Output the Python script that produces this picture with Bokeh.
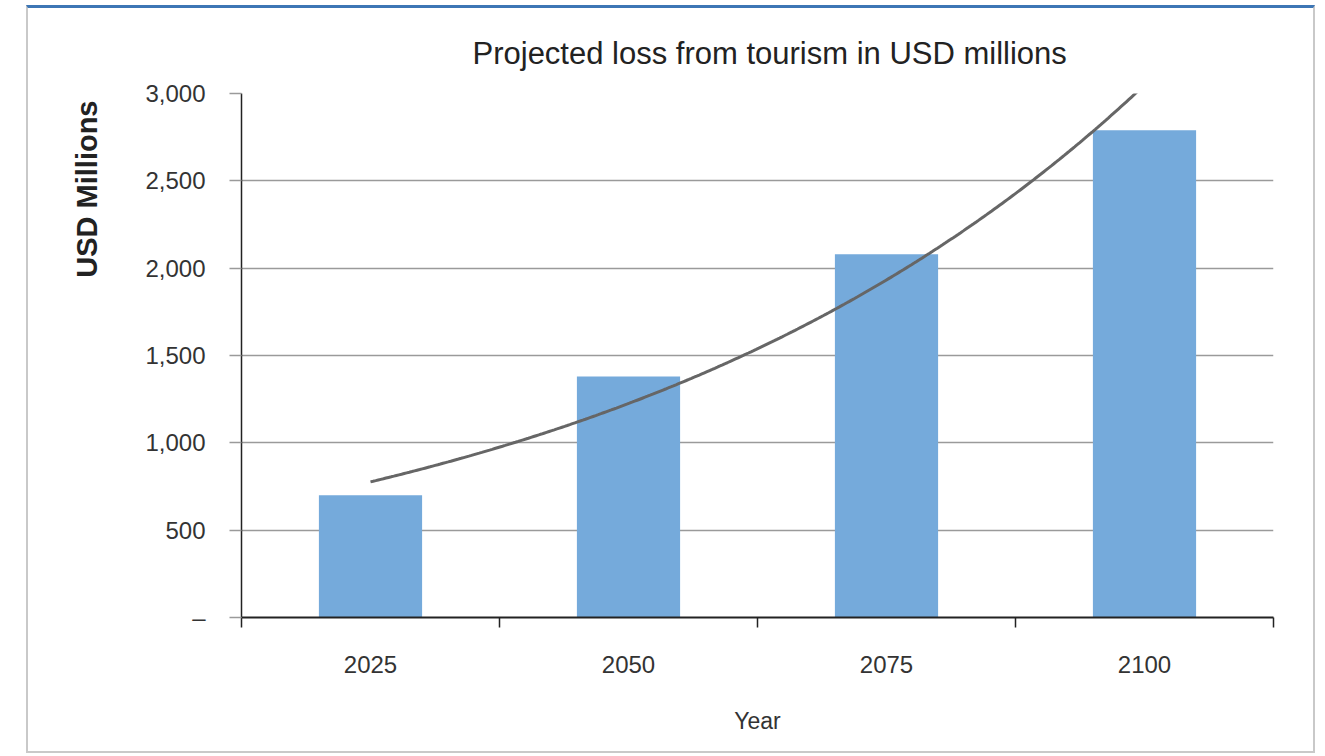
import numpy as np
from bokeh.plotting import figure
from bokeh.models import (Range1d, LinearAxis, FixedTicker, NumeralTickFormatter, Title)
from bokeh.embed import file_html
from bokeh.resources import INLINE

# ---- data ----
years = ["2025", "2050", "2075", "2100"]
losses = [700, 1380, 2080, 2790]
y_ticks = [0, 500, 1000, 1500, 2000, 2500, 3000]
title_text = "Projected loss from tourism in USD millions"
y_label = "USD Millions"
x_label = "Year"

FONT = "Liberation Sans"
TXT = "#333333"

n = len(years)
centers = [i + 0.5 for i in range(n)]

p = figure(width=1289, height=748, x_range=Range1d(0, n), y_range=Range1d(0, 3000),
           output_backend="svg", toolbar_location=None, x_axis_location=None,
           min_border_left=212, min_border_right=44, min_border_top=85, min_border_bottom=139,
           title=title_text)
p.margin = (5, 0, 0, 26)
p.styles = {"border-left": "2px solid #c9c9c9", "border-right": "2px solid #c9c9c9",
            "border-bottom": "2px solid #c9c9c9", "border-top": "3px solid #3d76b5"}
p.outline_line_color = None
p.background_fill_color = "white"
p.border_fill_color = "white"

# title
p.title.align = "left"
p.title.offset = 231
p.title.text_font = FONT
p.title.text_font_size = "31px"
p.title.text_font_style = "normal"
p.title.text_color = "#222222"
p.title.standoff = 46

# grid
p.xgrid.visible = False
p.ygrid.ticker = FixedTicker(ticks=y_ticks)
p.ygrid.grid_line_color = "#9a9a9a"
p.ygrid.grid_line_width = 1.5

# y axis
ya = p.yaxis[0]
ya.ticker = FixedTicker(ticks=y_ticks)
ya.formatter = NumeralTickFormatter(format="0,0")
ya.major_label_overrides = {0: "–"}
ya.major_tick_out = 12
ya.major_tick_in = 0
ya.minor_tick_line_color = None
ya.major_tick_line_color = "#9a9a9a"
ya.major_tick_line_width = 1.5
ya.axis_line_color = "#222222"
ya.axis_line_width = 1.5
ya.major_label_text_font = FONT
ya.major_label_text_font_size = "24px"
ya.major_label_text_color = TXT
ya.major_label_standoff = 24

# y axis title, aligned to the top of the plot area
p.add_layout(Title(text=y_label, align="right", offset=7, standoff=80,
                   text_font=FONT, text_font_size="29px", text_font_style="bold",
                   text_color="#222222"), "left")

# x axis: tick marks on category boundaries
edge_axis = LinearAxis(ticker=FixedTicker(ticks=list(range(n + 1))),
                       major_tick_out=10, major_tick_in=0, minor_tick_line_color=None,
                       major_label_text_font_size="0px", major_label_standoff=0,
                       axis_line_color="#222222", axis_line_width=2,
                       major_tick_line_color="#222222", major_tick_line_width=1.5)
p.add_layout(edge_axis, "below")

# x axis: category labels at bin centres
cat_axis = LinearAxis(ticker=FixedTicker(ticks=centers),
                      major_label_overrides={c: y for c, y in zip(centers, years)},
                      major_tick_line_color=None, minor_tick_line_color=None, axis_line_color=None,
                      major_tick_out=0, major_tick_in=0,
                      major_label_standoff=28, major_label_text_font=FONT,
                      major_label_text_font_size="24px", major_label_text_color=TXT,
                      axis_label=x_label, axis_label_standoff=32,
                      axis_label_text_font=FONT, axis_label_text_font_size="23px",
                      axis_label_text_font_style="normal", axis_label_text_color=TXT)
p.add_layout(cat_axis, "below")

# bars
p.vbar(x=centers, top=losses, width=0.4, fill_color="#75aadb", line_color=None)

# exponential trend line fitted to the bar values
xi = np.arange(1, n + 1)
coef = np.polyfit(xi, np.log(losses), 1)
t = np.linspace(1, n, 300)
trend = np.exp(np.polyval(coef, t))
p.line(x=t - 0.5, y=trend, line_color="#666666", line_width=3)

open("out.html", "w").write(file_html(p, INLINE))
